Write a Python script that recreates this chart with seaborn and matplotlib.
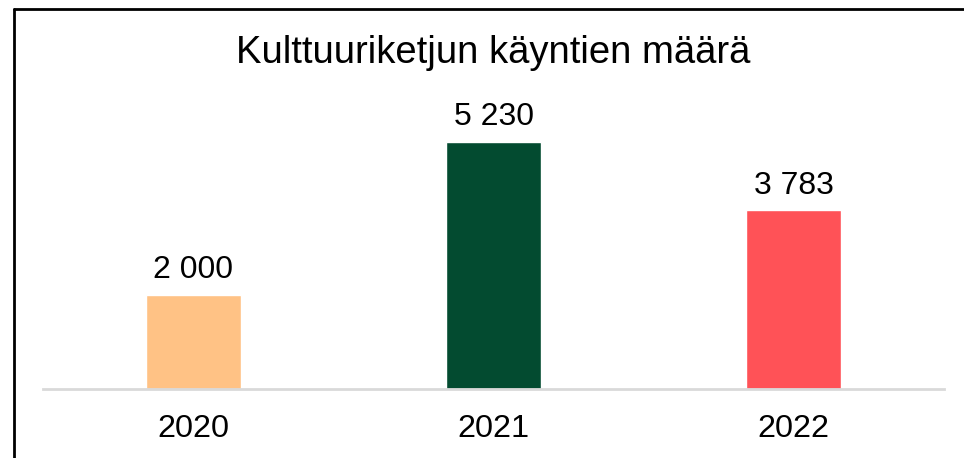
import matplotlib
matplotlib.use("Agg")
import matplotlib.pyplot as plt
from matplotlib.lines import Line2D
import seaborn as sns
import pandas as pd

years = ["2020", "2021", "2022"]
visits = [2000, 5230, 3783]
bar_colors = ["#FFC285", "#034B30", "#FF5257"]
title = "Kulttuuriketjun käyntien määrä"

sns.set_theme(style="white")
plt.rcParams["font.family"] = ["Liberation Sans", "DejaVu Sans"]

W, H = 964, 458
fig = plt.figure(figsize=(W / 100, H / 100), dpi=100)
ax = fig.add_axes([43 / W, (H - 389) / H, (944 - 43) / W, (389 - 105.6) / H])

df = pd.DataFrame({"year": years, "visits": visits})
sns.barplot(data=df, x="year", y="visits", hue="year", palette=bar_colors,
            legend=False, width=0.317, saturation=1, ax=ax)

ax.set_ylim(0, 6000)
ax.set_xlim(-0.5, 2.5)
for s in ["top", "left", "right"]:
    ax.spines[s].set_visible(False)
ax.spines["bottom"].set_color("#D9D9D9")
ax.spines["bottom"].set_linewidth(2)
ax.set_yticks([])
ax.set_xlabel("")
ax.set_ylabel("")
ax.tick_params(axis="x", length=0, pad=18, labelsize=23.3, labelcolor="black")

for container in ax.containers:
    ax.bar_label(container, labels=[f"{v:,.0f}".replace(",", " ") for v in container.datavalues],
                 padding=7, fontsize=23, color="black")

fig.text(493 / W, 1 - 53 / H, title, ha="center", va="center", fontsize=27.5, color="black")

# outer frame (top and left edges)
fig.add_artist(Line2D([13.5 / W, 1.0], [1 - 8.5 / H, 1 - 8.5 / H], color="black", lw=2,
                      transform=fig.transFigure))
fig.add_artist(Line2D([13.5 / W, 13.5 / W], [0, 1 - 8.5 / H], color="black", lw=2,
                      transform=fig.transFigure))

fig.savefig("out.png", dpi=100)
